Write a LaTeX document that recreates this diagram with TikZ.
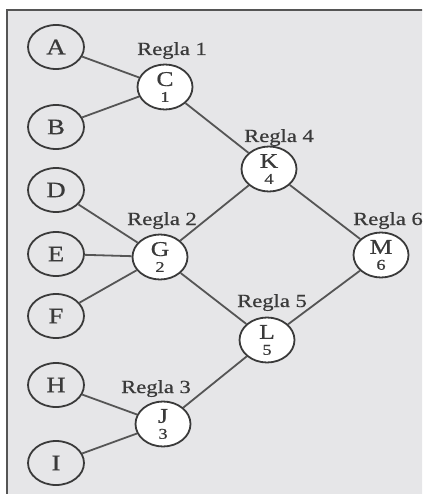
\documentclass[tikz,border=0pt]{standalone}
\usepackage{fontspec}
\usepackage{graphicx}
\setmainfont{Liberation Serif}
\newfontfamily\heavyserif{Liberation Serif}[FakeBold=0.6]
\usetikzlibrary{shapes.geometric}
\definecolor{panel}{HTML}{E6E6E8}
\definecolor{frame}{HTML}{555555}
\definecolor{ink}{HTML}{3A3A3A}
\definecolor{wire}{HTML}{555555}
% horizontally widened text
\newcommand{\wide}[1]{\scalebox{1.22}[1]{#1}}
\newcommand{\ruletag}[2]{\wide{#1}\\[-5pt]{\fontsize{15}{15}\selectfont\wide{#2}}}
\tikzset{
  fact/.style={ellipse, draw=ink, line width=1.8pt, minimum width=56pt, minimum height=44pt,
    inner sep=0pt, font=\heavyserif\fontsize{22}{22}\selectfont, text=ink},
  rulenode/.style={ellipse, draw=ink, fill=white, line width=1.8pt, minimum width=55pt,
    minimum height=45pt, inner sep=0pt, align=center, font=\heavyserif\fontsize{21}{21}\selectfont, text=ink},
  tag/.style={anchor=base, inner sep=0pt, font=\heavyserif\fontsize{18.5}{18.5}\selectfont, text=ink},
  link/.style={draw=wire, line width=1.8pt},
}
\begin{document}
\begin{tikzpicture}[x=1pt,y=-1pt]
  \useasboundingbox (0,0) rectangle (422,494);
  \clip (0,0) rectangle (422,494);
  % panel with its top and left rules
  \fill[panel] (7,10) rectangle (424,496);
  \draw[frame, line width=2.5pt] (7,496) -- (7,10) -- (424,10);

  % input facts
  \node[fact] (A) at (56,47) {\wide{A}};
  \node[fact] (B) at (56,127) {\wide{B}};
  \node[fact] (D) at (56,190) {\wide{D}};
  \node[fact] (E) at (56,254) {\wide{E}};
  \node[fact] (F) at (56,316) {\wide{F}};
  \node[fact] (H) at (56,385) {\wide{H}};
  \node[fact] (I) at (56,463) {\wide{I}};

  % derived facts
  \node[rulenode] (C) at (165,87) {\ruletag{C}{1}};
  \node[rulenode] (G) at (160,257) {\ruletag{G}{2}};
  \node[rulenode] (J) at (163,424) {\ruletag{J}{3}};
  \node[rulenode] (K) at (269,169) {\ruletag{K}{4}};
  \node[rulenode] (L) at (267,340) {\ruletag{L}{5}};
  \node[rulenode] (M) at (381,255) {\ruletag{M}{6}};

  % rule names
  \node[tag] (r1) at (172,55) {\wide{Regla 1}};
  \node[tag] (r2) at (162,225) {\wide{Regla 2}};
  \node[tag] (r3) at (156,393) {\wide{Regla 3}};
  \node[tag] (r4) at (279,142) {\wide{Regla 4}};
  \node[tag] (r5) at (272,307) {\wide{Regla 5}};
  \node[tag, anchor=base west] (r6) at (353,225) {\wide{Regla 6}};

  % inference links
  \draw[link] (A) -- (C);
  \draw[link] (B) -- (C);
  \draw[link] (D) -- (G);
  \draw[link] (E) -- (G);
  \draw[link] (F) -- (G);
  \draw[link] (H) -- (J);
  \draw[link] (I) -- (J);
  \draw[link] (C) -- (K);
  \draw[link] (G) -- (K);
  \draw[link] (G) -- (L);
  \draw[link] (J) -- (L);
  \draw[link] (K) -- (M);
  \draw[link] (L) -- (M);
\end{tikzpicture}
\end{document}
